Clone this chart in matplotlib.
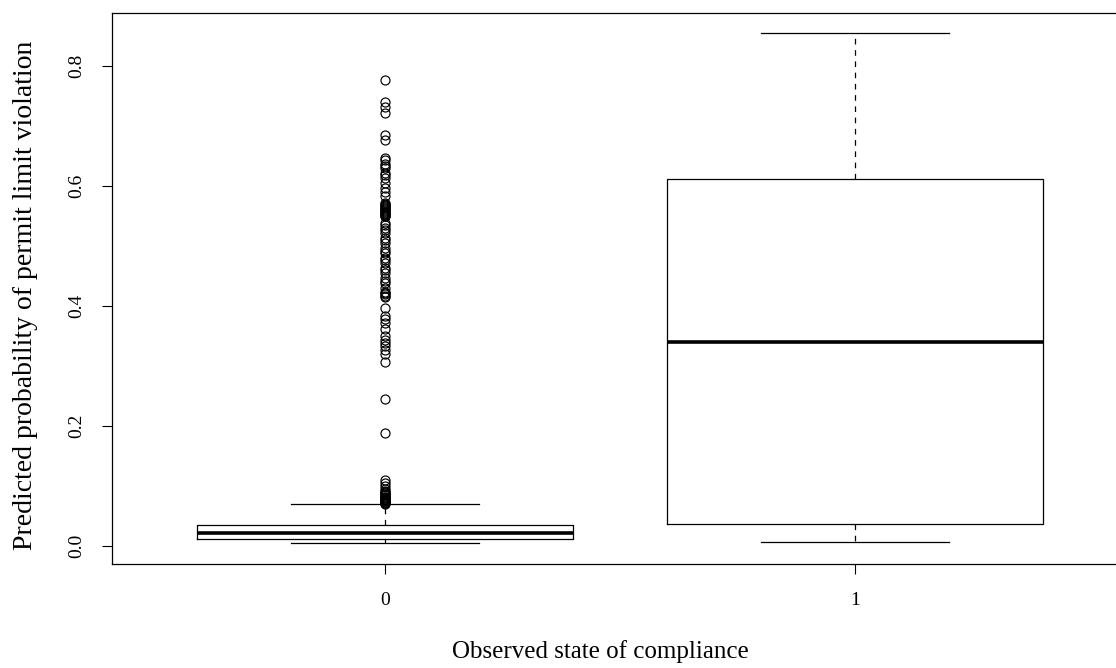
import matplotlib
matplotlib.use("Agg")
import matplotlib.pyplot as plt

# ---- data ----
categories = ["0", "1"]
q1 = [0.012, 0.037]
median = [0.022, 0.340]
q3 = [0.034, 0.611]
whisker_low = [0.004, 0.0055]
whisker_high = [0.069, 0.854]
outliers_0 = [0.777, 0.739, 0.731, 0.722, 0.684, 0.676,
              0.646, 0.643, 0.637, 0.633, 0.629, 0.622, 0.618, 0.613, 0.605,
              0.597, 0.590, 0.583,
              0.572, 0.570, 0.568, 0.566, 0.565, 0.563, 0.562, 0.560, 0.558,
              0.556, 0.555, 0.553, 0.552, 0.550, 0.549,
              0.538, 0.534, 0.530, 0.526, 0.522, 0.513, 0.509, 0.505, 0.497,
              0.492, 0.488, 0.480, 0.476, 0.472, 0.463, 0.459, 0.455, 0.447,
              0.442, 0.438, 0.430, 0.423, 0.421, 0.419, 0.417, 0.415,
              0.397, 0.383, 0.378, 0.372, 0.361, 0.349, 0.343, 0.338, 0.333,
              0.327, 0.319, 0.306,
              0.245, 0.188,
              0.110, 0.105, 0.100, 0.095, 0.092, 0.090, 0.088, 0.087, 0.085,
              0.084, 0.082, 0.081, 0.080, 0.079, 0.078, 0.077, 0.076, 0.075,
              0.074, 0.073, 0.072, 0.071, 0.070]
outliers_1 = []
yticks = [0.0, 0.2, 0.4, 0.6, 0.8]
xlabel = "Observed state of compliance"
ylabel = "Predicted probability of permit limit violation"

stats = []
for i, lab in enumerate(categories):
    stats.append(dict(label=lab, q1=q1[i], med=median[i], q3=q3[i],
                      whislo=whisker_low[i], whishi=whisker_high[i],
                      fliers=[outliers_0, outliers_1][i]))

plt.rcParams['font.family'] = ['Liberation Serif', 'DejaVu Serif']

W, H = 1116, 668
fig = plt.figure(figsize=(W / 100, H / 100), dpi=100)
left, right, top, bottom = 112, 1128, 13, 564
ax = fig.add_axes([left / W, (H - bottom) / H, (right - left) / W, (bottom - top) / H])

lw = 0.9
ax.bxp(stats, positions=[0, 1], widths=0.8, capwidths=0.4, showfliers=True,
       boxprops=dict(color='black', linewidth=lw),
       medianprops=dict(color='black', linewidth=2.6, solid_capstyle='butt'),
       whiskerprops=dict(color='black', linewidth=lw, linestyle=(0, (4.5, 4.5))),
       capprops=dict(color='black', linewidth=lw),
       flierprops=dict(marker='o', markerfacecolor='none', markeredgecolor='black',
                       markersize=6.5, markeredgewidth=0.85, linestyle='none'))

ax.set_xlim(-0.581, 1.581)
ax.set_ylim(-0.0305, 0.888)
ax.set_xticks([0, 1])
ax.set_xticklabels(categories)
ax.set_yticks(yticks)
ax.set_yticklabels([f"{v:.1f}" for v in yticks], rotation=90, va='center')
ax.tick_params(axis='both', direction='out', length=7, width=0.8, labelsize=14)
ax.tick_params(axis='x', pad=13)
ax.tick_params(axis='y', pad=12)
for s in ax.spines.values():
    s.set_linewidth(0.9)

fig.text(600 / W, 1 - 652 / H, xlabel, ha='center', va='center', fontsize=18)
fig.text(26 / W, 1 - 295 / H, ylabel, ha='center', va='center', rotation=90, fontsize=20)

fig.savefig("out.png", dpi=100)
